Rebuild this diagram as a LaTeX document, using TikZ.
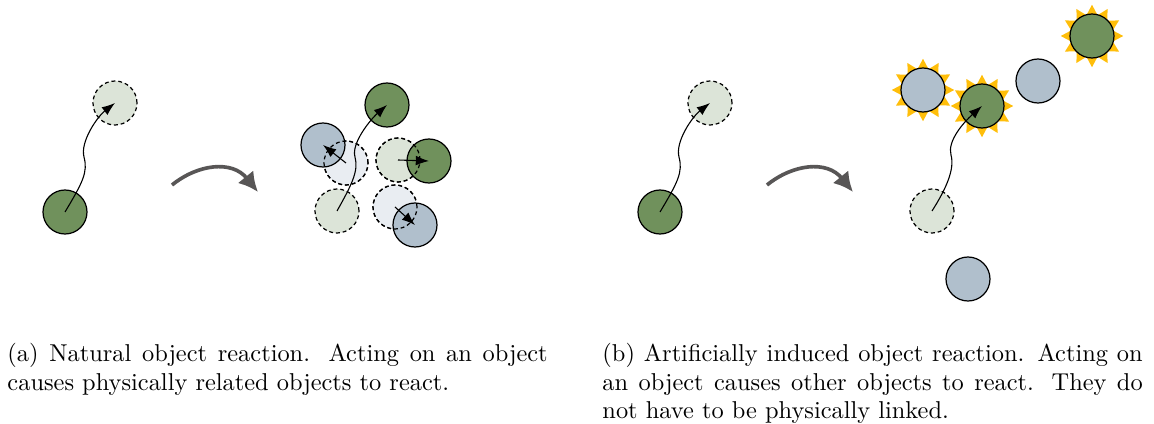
\documentclass[tikz,border=0pt]{standalone}
\usepackage{amsmath,amssymb}
\usepackage{tikz}
\usetikzlibrary{arrows.meta,positioning,shapes.geometric}
\usepackage{xcolor}

\definecolor{objgreen}{RGB}{112,145,92}
\definecolor{objblue}{RGB}{176,191,204}
\definecolor{ghostgreen}{RGB}{220,228,216}
\definecolor{ghostblue}{RGB}{233,237,242}
\definecolor{rayyellow}{RGB}{255,190,10}
\definecolor{flowgray}{RGB}{88,86,86}

\tikzset{
  obj/.style={circle,draw=black,line width=0.5pt,minimum size=6.34mm,inner sep=0pt},
  greenobj/.style={obj,fill=objgreen},
  blueobj/.style={obj,fill=objblue},
  ghost/.style={obj,dashed,dash pattern=on 1.6pt off 1.2pt},
  ghostline/.style={draw=black,line width=0.5pt,dash pattern=on 1.6pt off 1.2pt},
  rays/.style={star,star points=12,star point ratio=1.45,minimum size=9mm,inner sep=0pt,fill=rayyellow},
  move/.style={line width=0.45pt,-{Latex[length=1.9mm,width=1.4mm]}},
  flow/.style={draw=flowgray,line width=1.5pt,-{Latex[length=2.8mm,width=2.9mm]}},
  caption/.style={text width=221.5pt,inner sep=0pt,anchor=north west,align=justify,
    font=\fontsize{10}{11.6}\selectfont}
}

\begin{document}
\begin{tikzpicture}[x=0.1441mm,y=-0.1441mm]
  \useasboundingbox (0,0) rectangle (1154,424);

  % (a) one object is moved
  \node[greenobj] (a-src) at (65,212) {};
  \node[ghost,fill=ghostgreen] (a-dst) at (115,103) {};
  \coordinate (a-bend) at (84,157);
  \draw[move] (a-src.center) .. controls +(18,-30) and +(4,15) .. (a-bend)
                             .. controls +(-4,-15) and +(-18,14) .. (a-dst.center);

  \draw[flow] (172,185) .. controls (198,164) and (232,160) .. (258,192);

  % (a) the linked objects follow
  \node[ghost,fill=ghostgreen] (l-src)  at (337,211) {};
  \node[ghost,fill=ghostblue]  (l-left) at (346,163) {};
  \node[ghost,fill=ghostgreen] (l-mid)  at (398,160) {};
  \node[ghost,fill=ghostblue]  (l-low)  at (395,207) {};
  \node[greenobj] (l-top)   at (387,105) {};
  \node[blueobj]  (l-lnew)  at (323,145) {};
  \node[greenobj] (l-mnew)  at (429,161) {};
  \node[blueobj]  (l-bnew)  at (415,225) {};
  % old outlines stay visible over the moved objects
  \foreach \g in {l-left,l-mid,l-low}
    \draw[ghostline] (\g.center) circle[radius=3.17mm];
  \coordinate (l-bend) at (355,157);
  \draw[move] (l-src.center) .. controls +(14,-25) and +(4,14) .. (l-bend)
                             .. controls +(-4,-14) and +(-16,14) .. (l-top.center);
  \draw[move] (l-left.center) -- (l-lnew.center);
  \draw[move] (l-mid.center) -- (l-mnew.center);
  \draw[move] (l-low.center) -- (l-bnew.center);

  % (b) same move
  \node[greenobj] (b-src) at (660,212) {};
  \node[ghost,fill=ghostgreen] (b-dst) at (710,103) {};
  \coordinate (b-bend) at (679,157);
  \draw[move] (b-src.center) .. controls +(18,-30) and +(4,15) .. (b-bend)
                             .. controls +(-4,-15) and +(-18,14) .. (b-dst.center);

  \draw[flow] (767,185) .. controls (793,164) and (827,160) .. (853,192);

  % (b) unrelated objects react
  \node[rays] (r-1) at (923,90) {};
  \node[rays] (r-2) at (982,106) {};
  \node[rays] (r-3) at (1092,36) {};
  \node[ghost,fill=ghostgreen] (u-src) at (932,211) {};
  \node[blueobj]  (u-lit1) at (923,90) {};
  \node[greenobj] (u-dst)  at (982,106) {};
  \node[blueobj]  (u-far)  at (1038,81) {};
  \node[greenobj] (u-lit2) at (1092,36) {};
  \node[blueobj]  (u-low)  at (968,279) {};
  \coordinate (u-bend) at (951,155);
  \draw[move] (u-src.center) .. controls +(14,-22) and +(4,14) .. (u-bend)
                             .. controls +(-4,-14) and +(-18,16) .. (u-dst.center);

  % captions
  \node[caption] (cap-a) at (7,343)
    {(a) Natural object reaction. Acting on an object causes physically related objects to react.};
  \node[caption] (cap-b) at (602,343)
    {(b) Artificially induced object reaction. Acting on an object causes other objects to react. They do not have to be physically linked.};
\end{tikzpicture}
\end{document}
